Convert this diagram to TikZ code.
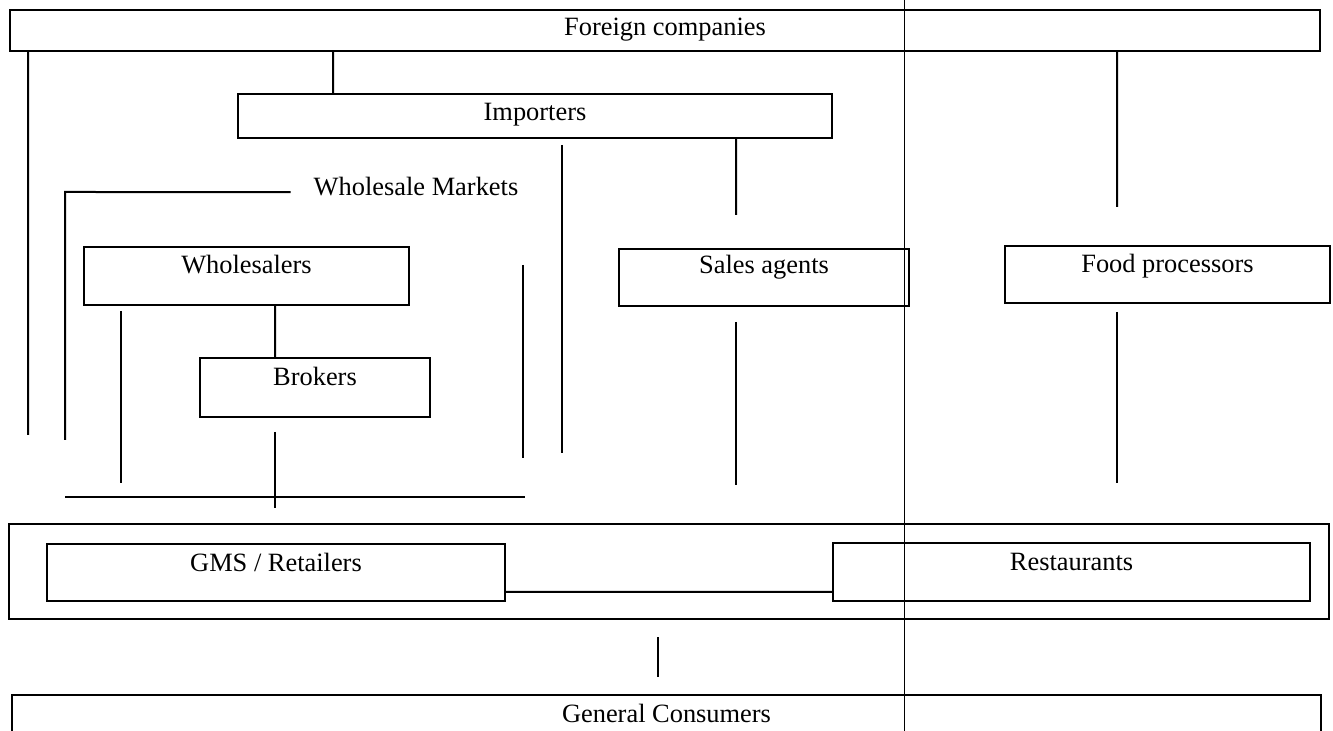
\documentclass[tikz,border=0pt]{standalone}
\usepackage{fontspec}
\setmainfont{Liberation Serif}

\newcommand{\pxscl}{0.5}
\newcommand{\pxlen}[1]{#1*\pxscl pt}
\newcommand{\bx}{\node[draw, line width=1pt, anchor=north west, inner sep=0pt]}
\newcommand{\tx}{\node[anchor=base, inner sep=0pt, font=\fontsize{13.2}{15}\selectfont]}

\begin{document}
\begin{tikzpicture}[x=\pxscl pt, y=-\pxscl pt, line width=1pt]
            \useasboundingbox (0,0) rectangle (1333,731);
            \clip (0,0) rectangle (1333,731);

            % boxes
            \bx[minimum width=\pxlen{1310}, minimum height=\pxlen{41}] (fc) at (9,9) {};
            \bx[minimum width=\pxlen{594}, minimum height=\pxlen{44}] (imp) at (237,93) {};
            \bx[minimum width=\pxlen{325}, minimum height=\pxlen{58}] (whs) at (83,246) {};
            \bx[minimum width=\pxlen{230}, minimum height=\pxlen{59}] (brk) at (199,357) {};
            \bx[minimum width=\pxlen{290}, minimum height=\pxlen{57}] (sag) at (618,248) {};
            \bx[minimum width=\pxlen{325}, minimum height=\pxlen{57}] (fpr) at (1004,245) {};
            \bx[minimum width=\pxlen{1320}, minimum height=\pxlen{95}] (ret) at (8,523) {};
            \bx[minimum width=\pxlen{458}, minimum height=\pxlen{57}] (gms) at (46,543) {};
            \bx[minimum width=\pxlen{477}, minimum height=\pxlen{58}] (rst) at (832,542) {};
            \bx[minimum width=\pxlen{1309}, minimum height=\pxlen{80}] (gc) at (11,694) {};

            % labels
            \tx (fc-t) at ([yshift=-\pxlen{27}]fc.north) {Foreign companies};
            \tx (imp-t) at ([yshift=-\pxlen{28}]imp.north) {Importers};
            \tx (whs-t) at ([yshift=-\pxlen{28}]whs.north) {Wholesalers};
            \tx (brk-t) at ([yshift=-\pxlen{29}]brk.north) {Brokers};
            \tx (sag-t) at ([yshift=-\pxlen{26}]sag.north) {Sales agents};
            \tx (fpr-t) at ([yshift=-\pxlen{28}]fpr.north) {Food processors};
            \tx (gms-t) at ([yshift=-\pxlen{29}]gms.north) {GMS / Retailers};
            \tx (rst-t) at ([yshift=-\pxlen{29}]rst.north) {Restaurants};
            \tx (gc-t) at ([yshift=-\pxlen{28}]gc.north) {General Consumers};
            \tx (wm) at (416,196) {Wholesale Markets};

            % free ends
            \coordinate (e1) at (28,435);
            \coordinate (e2) at (333,0);
            \coordinate (e3) at (1117,207);
            \coordinate (e4) at (736,215);
            \coordinate (e5) at (275,0);
            \coordinate (e6) at (0,592);
            \coordinate (e7) at (65,440);
            \coordinate (f1) at (121,311);  \coordinate (g1) at (121,483);
            \coordinate (f2) at (275,432);  \coordinate (g2) at (275,508);
            \coordinate (f3) at (523,265);  \coordinate (g3) at (523,458);
            \coordinate (f4) at (562,145);  \coordinate (g4) at (562,453);
            \coordinate (f5) at (65,497);   \coordinate (g5) at (525,497);
            \coordinate (f6) at (736,322);  \coordinate (g6) at (736,485);
            \coordinate (f7) at (1117,312); \coordinate (g7) at (1117,483);
            \coordinate (f8) at (658,637);  \coordinate (g8) at (658,677);
            \coordinate (f9) at (904,0);    \coordinate (g9) at (904,731);

            \draw
                (fc.south -| e1) -- (e1)
                (fc.south -| e2) -- (imp.north -| e2)
                (fc.south -| e3) -- (e3)
                (imp.south -| e4) -- (e4)
                (whs.south -| e5) -- (brk.north -| e5)
                (gms.east |- e6) -- (rst.west |- e6)
                ([shift={(-22,5)}]wm.west) -- (e7 |- 0,192) -- (e7)
                ;

            \draw
                (f1) -- (g1)
                (f2) -- (g2)
                (f3) -- (g3)
                (f4) -- (g4)
                (f5) -- (g5)
                (f6) -- (g6)
                (f7) -- (g7)
                (f8) -- (g8)
                ;

            \draw[line width=0.5pt] (f9) -- (g9);
        \end{tikzpicture}
\end{document}
